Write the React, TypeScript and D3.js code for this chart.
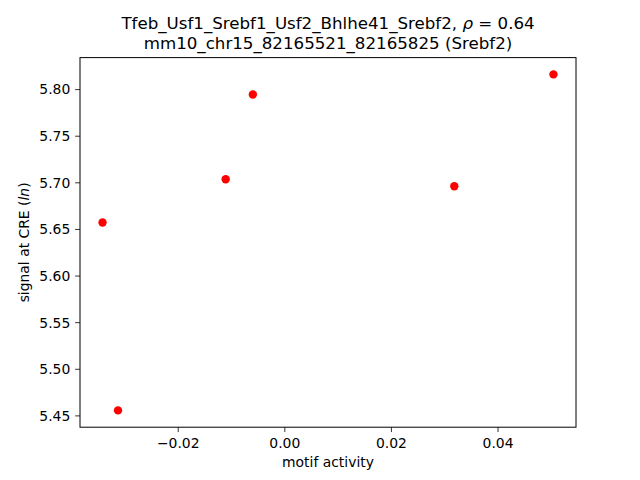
import React from "react";
import * as d3 from "d3";

const xValues = [-0.0342, -0.0313, -0.0111, -0.006, 0.0318, 0.0504];
const yValues = [5.6574, 5.4559, 5.7039, 5.7948, 5.6964, 5.8163];
const xTicks = [-0.02, 0.0, 0.02, 0.04];
const yTicks = [5.45, 5.5, 5.55, 5.6, 5.65, 5.7, 5.75, 5.8];
const titleLine1 = "Tfeb_Usf1_Srebf1_Usf2_Bhlhe41_Srebf2, ";
const rhoValue = "0.64";
const titleLine2 = "mm10_chr15_82165521_82165825 (Srebf2)";

export default function App() {
  const W = 640, H = 480;
  const L = 80, R = 576, T = 57.6, B = 427.2;
  const font = "'DejaVu Sans', sans-serif";
  const fs = 13.9;
  const [x0, x1] = d3.extent(xValues) as [number, number];
  const [y0, y1] = d3.extent(yValues) as [number, number];
  const mx = (x1 - x0) * 0.05, my = (y1 - y0) * 0.05;
  const x = d3.scaleLinear().domain([x0 - mx, x1 + mx]).range([L, R]);
  const y = d3.scaleLinear().domain([y0 - my, y1 + my]).range([B, T]);
  const fmtX = (v: number) => (v < 0 ? "\u2212" : "") + Math.abs(v).toFixed(2);
  const tick = 4.86;
  return (
    <svg width={W} height={H} style={{ position: "absolute", left: 0, top: 0, background: "#fff" }}
      fontFamily={font}>
      <rect x={0} y={0} width={W} height={H} fill="#fff" />
      {xValues.map((v, i) => (
        <circle key={i} cx={x(v)} cy={y(yValues[i])} r={4.2} fill="#ff0000" />
      ))}
      <rect x={L} y={T} width={R - L} height={B - T} fill="none" stroke="#000" strokeWidth={1} />
      {xTicks.map((t) => (
        <g key={t}>
          <line x1={x(t)} x2={x(t)} y1={B} y2={B + tick} stroke="#000" strokeWidth={0.8} />
          <text x={x(t)} y={B + tick + 4.86 + 11} textAnchor="middle" fontSize={fs} fill="#000">{fmtX(t)}</text>
        </g>
      ))}
      {yTicks.map((t) => (
        <g key={t}>
          <line x1={L - tick} x2={L} y1={y(t)} y2={y(t)} stroke="#000" strokeWidth={0.8} />
          <text x={L - tick - 4.86} y={y(t)} dy="0.35em" textAnchor="end" fontSize={fs} fill="#000">{t.toFixed(2)}</text>
        </g>
      ))}
      <text x={(L + R) / 2} y={467} textAnchor="middle" fontSize={fs} fill="#000">motif activity</text>
      <text transform={`translate(29,${(T + B) / 2}) rotate(-90)`} textAnchor="middle" fontSize={fs} fill="#000">
        signal at CRE (<tspan fontStyle="italic">ln</tspan>)
      </text>
      <text x={(L + R) / 2} y={29} textAnchor="middle" fontSize={16.67} fill="#000">
        {titleLine1}<tspan fontStyle="italic">ρ</tspan> = {rhoValue}
      </text>
      <text x={(L + R) / 2} y={49} textAnchor="middle" fontSize={16.67} fill="#000">{titleLine2}</text>
    </svg>
  );
}
